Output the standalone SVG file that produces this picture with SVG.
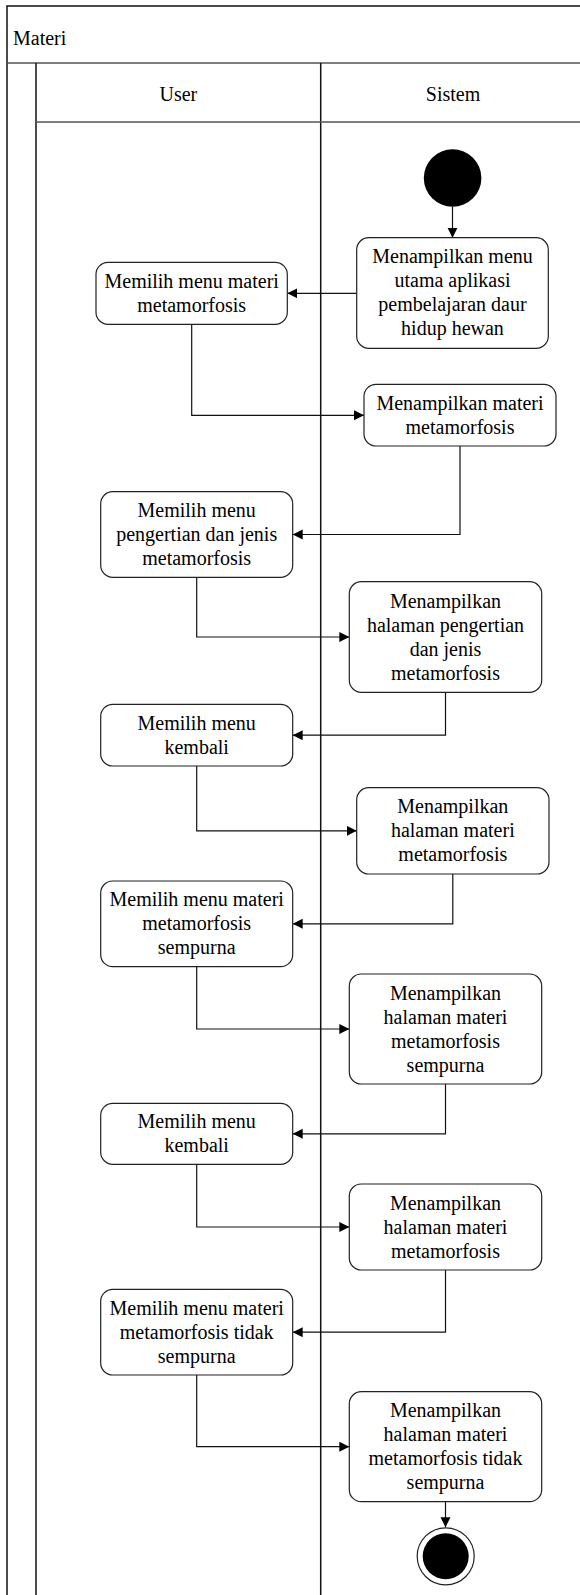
<svg xmlns="http://www.w3.org/2000/svg" width="580" height="1595" viewBox="0 0 580 1595">
  <style>
    .frame { fill: none; stroke: #111; stroke-width: 1.5; }
    .sep { fill: none; stroke: #555; stroke-width: 1.5; }
    .act { fill: #fff; stroke: #222; stroke-width: 1.2; }
    .lbl { font-family: "Liberation Serif", "Times New Roman", serif; font-size: 20px; fill: #000; text-anchor: middle; }
    .title { font-family: "Liberation Serif", "Times New Roman", serif; font-size: 20px; fill: #000; }
    .flow { fill: none; stroke: #111; stroke-width: 1.2; }
  </style>
  <defs>
    <marker id="arrow" markerUnits="userSpaceOnUse" markerWidth="11" markerHeight="11" refX="10" refY="5" orient="auto">
      <path d="M0,0 L10,5 L0,10 z" fill="#000"/>
    </marker>
  </defs>

  <rect width="580" height="1595" fill="#fff"/>

  <!-- swimlane frame -->
  <g id="pool">
    <rect class="frame" x="7" y="6" width="580" height="1600"/>
    <line class="sep" x1="7" y1="63" x2="587" y2="63"/>
    <line class="frame" x1="36" y1="63" x2="36" y2="1600"/>
    <line class="frame" x1="320.7" y1="63" x2="320.7" y2="1600"/>
    <line class="sep" x1="36" y1="122" x2="587" y2="122"/>
    <text class="title" x="13" y="45">Materi</text>
    <text class="lbl" x="178.4" y="100.5">User</text>
    <text class="lbl" x="453" y="100.5">Sistem</text>
  </g>

  <!-- connectors -->
  <g id="connectors">
    <path class="flow" marker-end="url(#arrow)" d="M452.5,206.7 L452.5,237.7"/>
    <path class="flow" marker-end="url(#arrow)" d="M356.7,293.3 L287.3,293.3"/>
    <path class="flow" marker-end="url(#arrow)" d="M191.7,324.3 L191.7,415.3 L364,415.3"/>
    <path class="flow" marker-end="url(#arrow)" d="M460,446 L460,534.5 L292.7,534.5"/>
    <path class="flow" marker-end="url(#arrow)" d="M196.7,577.3 L196.7,637 L349.3,637"/>
    <path class="flow" marker-end="url(#arrow)" d="M445.5,692.3 L445.5,735.2 L292.7,735.2"/>
    <path class="flow" marker-end="url(#arrow)" d="M196.7,766 L196.7,830.8 L356.7,830.8"/>
    <path class="flow" marker-end="url(#arrow)" d="M452.8,874 L452.8,923.8 L292.7,923.8"/>
    <path class="flow" marker-end="url(#arrow)" d="M196.7,966.7 L196.7,1029 L349.3,1029"/>
    <path class="flow" marker-end="url(#arrow)" d="M445.5,1084 L445.5,1133.8 L292.7,1133.8"/>
    <path class="flow" marker-end="url(#arrow)" d="M196.7,1164.3 L196.7,1227 L349.3,1227"/>
    <path class="flow" marker-end="url(#arrow)" d="M445.5,1270 L445.5,1332.2 L292.7,1332.2"/>
    <path class="flow" marker-end="url(#arrow)" d="M196.7,1375 L196.7,1446.7 L349.3,1446.7"/>
    <path class="flow" marker-end="url(#arrow)" d="M445.5,1501.7 L445.5,1527.3"/>
  </g>

  <g id="start">
    <circle cx="452.6" cy="178" r="28.8" fill="#000"/>
  </g>

  <g id="show-main-menu">
    <rect class="act" x="356.7" y="237.7" width="191.6" height="110.6" rx="12"/>
    <text class="lbl" x="452.5" y="263.3">Menampilkan menu</text>
    <text class="lbl" x="452.5" y="287.3">utama aplikasi</text>
    <text class="lbl" x="452.5" y="311.3">pembelajaran daur</text>
    <text class="lbl" x="452.5" y="335.3">hidup hewan</text>
  </g>

  <g id="pick-metamorphosis">
    <rect class="act" x="96" y="262.3" width="191.3" height="62" rx="12"/>
    <text class="lbl" x="191.7" y="287.8">Memilih menu materi</text>
    <text class="lbl" x="191.7" y="311.8">metamorfosis</text>
  </g>

  <g id="show-metamorphosis">
    <rect class="act" x="364" y="384.3" width="192" height="61.7" rx="12"/>
    <text class="lbl" x="460" y="409.7">Menampilkan materi</text>
    <text class="lbl" x="460" y="433.7">metamorfosis</text>
  </g>

  <g id="pick-definition">
    <rect class="act" x="100.7" y="491.7" width="192" height="85.6" rx="12"/>
    <text class="lbl" x="196.7" y="517">Memilih menu</text>
    <text class="lbl" x="196.7" y="541">pengertian dan jenis</text>
    <text class="lbl" x="196.7" y="565">metamorfosis</text>
  </g>

  <g id="show-definition">
    <rect class="act" x="349.3" y="581.7" width="192.4" height="110.6" rx="12"/>
    <text class="lbl" x="445.5" y="607.5">Menampilkan</text>
    <text class="lbl" x="445.5" y="631.5">halaman pengertian</text>
    <text class="lbl" x="445.5" y="655.5">dan jenis</text>
    <text class="lbl" x="445.5" y="679.5">metamorfosis</text>
  </g>

  <g id="pick-back-1">
    <rect class="act" x="100.7" y="704.3" width="192" height="61.7" rx="12"/>
    <text class="lbl" x="196.7" y="729.7">Memilih menu</text>
    <text class="lbl" x="196.7" y="753.7">kembali</text>
  </g>

  <g id="show-metamorphosis-page-1">
    <rect class="act" x="356.7" y="787.7" width="192.3" height="86.3" rx="12"/>
    <text class="lbl" x="452.8" y="813.3">Menampilkan</text>
    <text class="lbl" x="452.8" y="837.3">halaman materi</text>
    <text class="lbl" x="452.8" y="861.3">metamorfosis</text>
  </g>

  <g id="pick-complete">
    <rect class="act" x="100.7" y="881" width="192" height="85.7" rx="12"/>
    <text class="lbl" x="196.7" y="906.3">Memilih menu materi</text>
    <text class="lbl" x="196.7" y="930.3">metamorfosis</text>
    <text class="lbl" x="196.7" y="954.3">sempurna</text>
  </g>

  <g id="show-complete">
    <rect class="act" x="349.3" y="974" width="192.4" height="110" rx="12"/>
    <text class="lbl" x="445.5" y="999.5">Menampilkan</text>
    <text class="lbl" x="445.5" y="1023.5">halaman materi</text>
    <text class="lbl" x="445.5" y="1047.5">metamorfosis</text>
    <text class="lbl" x="445.5" y="1071.5">sempurna</text>
  </g>

  <g id="pick-back-2">
    <rect class="act" x="100.7" y="1103.3" width="192" height="61" rx="12"/>
    <text class="lbl" x="196.7" y="1128.3">Memilih menu</text>
    <text class="lbl" x="196.7" y="1152.3">kembali</text>
  </g>

  <g id="show-metamorphosis-page-2">
    <rect class="act" x="349.3" y="1184" width="192.4" height="86" rx="12"/>
    <text class="lbl" x="445.5" y="1209.5">Menampilkan</text>
    <text class="lbl" x="445.5" y="1233.5">halaman materi</text>
    <text class="lbl" x="445.5" y="1257.5">metamorfosis</text>
  </g>

  <g id="pick-incomplete">
    <rect class="act" x="100.7" y="1289.3" width="192" height="85.7" rx="12"/>
    <text class="lbl" x="196.7" y="1314.7">Memilih menu materi</text>
    <text class="lbl" x="196.7" y="1338.7">metamorfosis tidak</text>
    <text class="lbl" x="196.7" y="1362.7">sempurna</text>
  </g>

  <g id="show-incomplete">
    <rect class="act" x="349.3" y="1391.7" width="192.4" height="110" rx="12"/>
    <text class="lbl" x="445.5" y="1417.2">Menampilkan</text>
    <text class="lbl" x="445.5" y="1441.2">halaman materi</text>
    <text class="lbl" x="445.5" y="1465.2">metamorfosis tidak</text>
    <text class="lbl" x="445.5" y="1489.2">sempurna</text>
  </g>

  <g id="end">
    <circle cx="445.7" cy="1556.3" r="28.5" fill="#fff" stroke="#222" stroke-width="1.2"/>
    <circle cx="445.7" cy="1556.3" r="23" fill="#000"/>
  </g>
</svg>
